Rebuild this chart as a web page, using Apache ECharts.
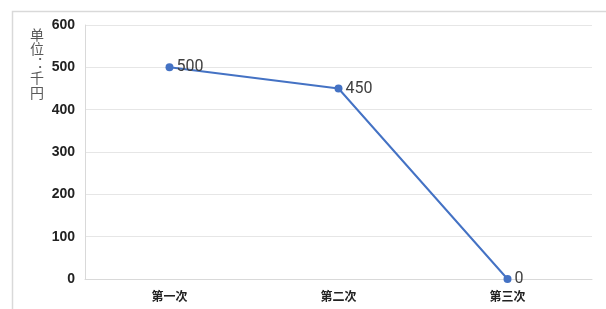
<!DOCTYPE html>
<html>
<head>
<meta charset="utf-8">
<script src="https://cdn.jsdelivr.net/npm/echarts@6/dist/echarts.min.js"></script>
<style>
  html, body { margin: 0; padding: 0; background: #fff; }
  #main { width: 606px; height: 309px; }
</style>
</head>
<body>
<div id="main"></div>
<script>
var categories = ["第一次", "第二次", "第三次"];
var values = [500, 450, 0];
var yTicks = [0, 100, 200, 300, 400, 500, 600];
var unitName = "单位︓千円";

var chart = echarts.init(document.getElementById("main"));
var option = {
  animation: false,
  graphic: [
    {
      type: "rect",
      left: 10,
      top: 9,
      shape: { width: 620, height: 320 },
      style: { fill: "none", stroke: "#d9d9d9", lineWidth: 1.5 },
      silent: true
    },
    {
      type: "text",
      left: 30,
      top: 27,
      style: {
        text: unitName.split("").join("\n"),
        font: "14px 'Noto Sans CJK SC'",
        fill: "#595959",
        lineHeight: 14.5,
        align: "center"
      }
    }
  ],
  grid: { left: 85, right: 14, top: 25, bottom: 30 },
  xAxis: {
    type: "category",
    data: categories,
    axisTick: { show: false },
    axisLine: { lineStyle: { color: "#d9d9d9" } },
    axisLabel: {
      color: "#222",
      fontWeight: "bold",
      fontSize: 12,
      margin: 11,
      fontFamily: "'Noto Sans CJK SC'"
    }
  },
  yAxis: {
    type: "value",
    min: yTicks[0],
    max: yTicks[yTicks.length - 1],
    interval: 100,
    axisLine: { show: true, lineStyle: { color: "#d9d9d9" } },
    axisTick: { show: false },
    splitLine: { lineStyle: { color: "#e6e6e6" } },
    axisLabel: {
      color: "#222",
      fontWeight: "bold",
      fontSize: 14,
      margin: 10,
      fontFamily: "'Liberation Sans'"
    }
  },
  series: [
    {
      type: "line",
      data: values,
      symbol: "circle",
      symbolSize: 8,
      itemStyle: { color: "#4472c4" },
      lineStyle: { color: "#4472c4", width: 2 },
      label: {
        show: true,
        position: "right",
        distance: 3,
        fontSize: 16,
        color: "#404040",
        fontFamily: "Roboto"
      }
    }
  ]
};
chart.setOption(option);
</script>
</body>
</html>
